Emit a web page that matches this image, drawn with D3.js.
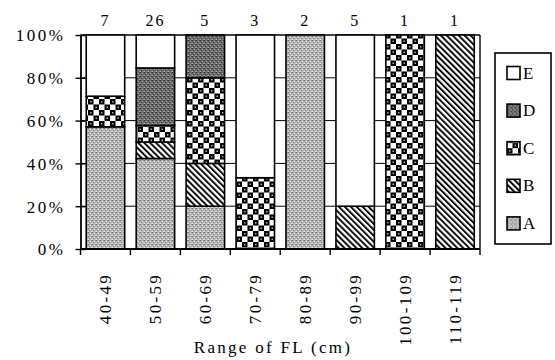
<!DOCTYPE html>
<html>
<head>
<meta charset="utf-8">
<script src="https://cdn.jsdelivr.net/npm/d3@7"></script>
<style>
  html, body { margin: 0; padding: 0; background: #fff; }
  svg { display: block; }
  text { font-family: "Liberation Serif", "DejaVu Serif", serif; fill: #000; }
</style>
</head>
<body>
<svg id="chart" width="555" height="360"></svg>
<script>
// ---- data ----
const categories = ["40-49", "50-59", "60-69", "70-79", "80-89", "90-99", "100-109", "110-119"];
const counts = [7, 26, 5, 3, 2, 5, 1, 1];
const seriesNames = ["A", "B", "C", "D", "E"];
const valuesA = [57.1, 42.3, 20, 0, 100, 0, 0, 0];
const valuesB = [0, 7.7, 20, 0, 0, 20, 0, 100];
const valuesC = [14.3, 7.7, 40, 33.3, 0, 0, 100, 0];
const valuesD = [0, 26.9, 20, 0, 0, 0, 0, 0];
const valuesE = [28.6, 15.4, 0, 66.7, 0, 80, 0, 0];
const yTickValues = [0, 20, 40, 60, 80, 100];
const yTickLabels = ["0%", "20%", "40%", "60%", "80%", "100%"];
const legendOrder = ["E", "D", "C", "B", "A"];
const xTitle = "Range of FL (cm)";

const table = categories.map((c, i) => ({
  cat: c, A: valuesA[i], B: valuesB[i], C: valuesC[i], D: valuesD[i], E: valuesE[i]
}));

const svg = d3.select("#chart");
svg.append("rect").attr("width", 555).attr("height", 360).attr("fill", "#fff");

// ---- patterns ----
const defs = svg.append("defs");
function stipple(id, bg, px) {
  const p = defs.append("pattern").attr("id", id).attr("patternUnits", "userSpaceOnUse")
    .attr("width", 4).attr("height", 4);
  p.append("rect").attr("width", 4).attr("height", 4).attr("fill", bg);
  px.forEach(d => p.append("rect").attr("x", d[0]).attr("y", d[1]).attr("width", 1).attr("height", 1).attr("fill", d[2]));
}
stipple("patA", "#b4b4b4", [[0,0,"#6e6e6e"],[2,1,"#e2e2e2"],[1,2,"#8a8a8a"],[3,3,"#d0d0d0"],[3,0,"#909090"],[0,3,"#eeeeee"]]);
stipple("patD", "#6a6a6a", [[0,0,"#2e2e2e"],[2,1,"#a0a0a0"],[1,2,"#404040"],[3,3,"#8c8c8c"],[3,0,"#505050"],[0,3,"#b0b0b0"]]);
{
  const p = defs.append("pattern").attr("id", "patC").attr("patternUnits", "userSpaceOnUse")
    .attr("width", 11).attr("height", 11);
  p.append("rect").attr("width", 11).attr("height", 11).attr("fill", "#fff");
  p.append("rect").attr("x", 0).attr("y", 0).attr("width", 5.5).attr("height", 5.5).attr("fill", "#000");
  p.append("rect").attr("x", 5.5).attr("y", 5.5).attr("width", 5.5).attr("height", 5.5).attr("fill", "#000");
  p.append("rect").attr("x", 2).attr("y", 2).attr("width", 1.5).attr("height", 1.5).attr("fill", "#aaa");
  p.append("rect").attr("x", 7.5).attr("y", 7.5).attr("width", 1.5).attr("height", 1.5).attr("fill", "#aaa");
}
{
  const p = defs.append("pattern").attr("id", "patB").attr("patternUnits", "userSpaceOnUse")
    .attr("width", 4.2).attr("height", 10).attr("patternTransform", "rotate(-45)");
  p.append("rect").attr("width", 4.2).attr("height", 10).attr("fill", "#fff");
  p.append("line").attr("x1", 1).attr("y1", 0).attr("x2", 1).attr("y2", 10)
    .attr("stroke", "#000").attr("stroke-width", 1.9);
}
const fills = { A: "url(#patA)", B: "url(#patB)", C: "url(#patC)", D: "url(#patD)", E: "#fff" };

// ---- scales ----
const x = d3.scaleBand().domain(categories).range([80.5, 480]).paddingInner(0.23).paddingOuter(0.115);
const y = d3.scaleLinear().domain([0, 100]).range([249, 35]);
const gap = (x.step() - x.bandwidth()) / 2;
const bounds = categories.map(c => x(c) - gap).concat([x(categories[categories.length - 1]) + x.bandwidth() + gap]);

// gridlines
svg.append("g").selectAll("line").data(yTickValues.filter(v => v > 0 && v < 100)).join("line")
  .attr("x1", x.range()[0]).attr("x2", x.range()[1])
  .attr("y1", d => y(d)).attr("y2", d => y(d))
  .attr("stroke", "#000").attr("stroke-width", 1);
// plot top & right border
svg.append("line").attr("x1", x.range()[0]).attr("x2", x.range()[1]).attr("y1", y(100)).attr("y2", y(100))
  .attr("stroke", "#000").attr("stroke-width", 1.6);
svg.append("line").attr("x1", x.range()[1]).attr("x2", x.range()[1]).attr("y1", y(100)).attr("y2", y(0))
  .attr("stroke", "#000").attr("stroke-width", 1.4);

// ---- bars ----
const stack = d3.stack().keys(seriesNames);
const layers = stack(table);
svg.append("g").selectAll("g").data(layers).join("g")
  .attr("fill", d => fills[d.key])
  .selectAll("rect").data(d => d.filter(s => s[1] - s[0] > 0)).join("rect")
  .attr("x", d => x(d.data.cat))
  .attr("width", x.bandwidth())
  .attr("y", d => y(d[1]))
  .attr("height", d => y(d[0]) - y(d[1]))
  .attr("stroke", "#000").attr("stroke-width", 1.6);

// ---- axes ----
const yAxis = d3.axisLeft(y).tickValues(yTickValues).tickSize(0).tickFormat((d, i) => yTickLabels[i]);
const gy = svg.append("g").attr("transform", `translate(${x.range()[0]},0)`).call(yAxis);
gy.select(".domain").attr("stroke", "#000").attr("stroke-width", 1.8);
gy.selectAll(".tick line").remove();
gy.selectAll(".tick").append("line").attr("x1", -5).attr("x2", 5).attr("stroke", "#000").attr("stroke-width", 1.4);
gy.selectAll(".tick text").attr("x", -15).attr("dy", "0.35em")
  .style("font-size", "17px").style("letter-spacing", "2.5px")
  .style("font-family", '"Liberation Serif", serif');

// x axis
svg.append("line").attr("x1", x.range()[0]).attr("x2", x.range()[1]).attr("y1", y(0)).attr("y2", y(0))
  .attr("stroke", "#000").attr("stroke-width", 1.8);
svg.append("g").selectAll("line").data(bounds).join("line")
  .attr("x1", d => d).attr("x2", d => d).attr("y1", y(0)).attr("y2", y(0) + 6)
  .attr("stroke", "#000").attr("stroke-width", 1.4);
svg.append("g").selectAll("text").data(categories).join("text")
  .attr("transform", d => `translate(${x(d) + x.bandwidth() / 2},273) rotate(-90)`)
  .attr("dy", "0.35em").attr("text-anchor", "end")
  .style("font-size", "17px").style("letter-spacing", "2.3px")
  .text(d => d);

// counts on top
svg.append("g").selectAll("text").data(categories).join("text")
  .attr("x", d => x(d) + x.bandwidth() / 2).attr("y", 26)
  .attr("text-anchor", "middle")
  .style("font-size", "16px").style("letter-spacing", "2px")
  .text((d, i) => counts[i]);

// axis title
svg.append("text").attr("x", 273).attr("y", 353).attr("text-anchor", "middle")
  .style("font-size", "17px").style("letter-spacing", "2.3px").text(xTitle);

// ---- legend ----
const lg = svg.append("g");
lg.append("rect").attr("x", 495).attr("y", 53).attr("width", 56).attr("height", 191)
  .attr("fill", "#fff").attr("stroke", "#000").attr("stroke-width", 1.6);
const items = lg.selectAll("g").data(legendOrder).join("g")
  .attr("transform", (d, i) => `translate(507,${73 + i * 37.6})`);
items.append("rect").attr("x", 0).attr("y", -6.5).attr("width", 13).attr("height", 13)
  .attr("fill", d => fills[d]).attr("stroke", "#000").attr("stroke-width", 1.6);
items.append("text").attr("x", 16).attr("y", 0).attr("dy", "0.33em")
  .style("font-size", "17px").text(d => d);
</script>
</body>
</html>
